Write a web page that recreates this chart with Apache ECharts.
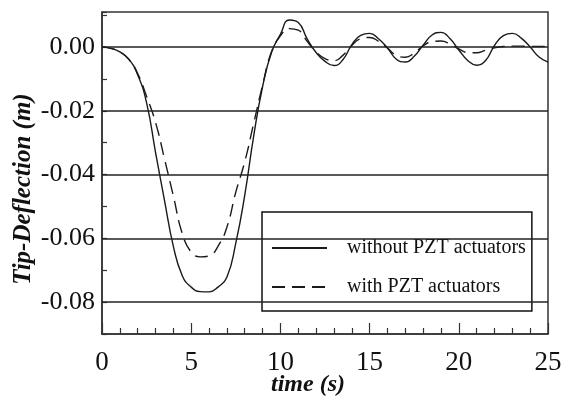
<!DOCTYPE html>
<html>
<head>
<meta charset="utf-8">
<script src="https://cdn.jsdelivr.net/npm/echarts@6/dist/echarts.min.js"></script>
<style>
  html, body { margin: 0; padding: 0; background: #fff; }
  #chart { width: 571px; height: 402px; }
</style>
</head>
<body>
<div id="chart"></div>
<script>
// time (s)
var timeData = [0, 0.5, 1, 1.5, 2, 2.5, 3, 3.5, 4, 4.5, 5, 5.5, 6, 6.5, 7, 7.5, 8, 8.5, 9, 9.5,
    10, 10.5, 11, 11.5, 12, 12.5, 13, 13.5, 14, 14.5, 15, 15.5, 16, 16.5, 17, 17.5, 18, 18.5, 19, 19.5,
    20, 20.5, 21, 21.5, 22, 22.5, 23, 23.5, 24, 24.5, 25]
// tip deflection (m) without PZT actuators
var withoutPzt = [0, -0.0004, -0.0015, -0.0038, -0.0087, -0.0175, -0.033, -0.048, -0.0625, -0.0717,
    -0.0753, -0.0767, -0.0768, -0.0753, -0.0722, -0.0615, -0.0465, -0.028, -0.0125, -0.0017,
    0.0040, 0.0085, 0.0077, 0.0026, -0.0017, -0.0045, -0.0058, -0.0040, 0.0007, 0.0037,
    0.0043, 0.0026, -0.0003, -0.0038, -0.0047, -0.0029, 0.0006, 0.0038, 0.0046, 0.0027,
    -0.0009, -0.0042, -0.0057, -0.0042, 0.0005, 0.0036, 0.0043, 0.0028, 0.0000, -0.0031, -0.0047]
// tip deflection (m) with PZT actuators
var withPzt = [0, -0.0004, -0.0015, -0.0038, -0.0083, -0.0155, -0.0236, -0.035, -0.0467, -0.0585,
    -0.0643, -0.0658, -0.0655, -0.0625, -0.0565, -0.0455, -0.036, -0.024, -0.012, -0.0015,
    0.0035, 0.0058, 0.0053, 0.0018, -0.0015, -0.0036, -0.0043, -0.0026, 0.0005, 0.0026,
    0.0030, 0.0018, -0.0003, -0.0026, -0.0032, -0.0019, 0.0004, 0.0017, 0.0019, 0.0010,
    -0.0006, -0.0017, -0.0018, -0.0010, -0.0002, 0.0002, 0.0003, 0.0003, 0.0002, 0.0002, 0.0002]
var gridValues = [0, -0.02, -0.04, -0.06, -0.08]
var seriesNames = ['without PZT actuators', 'with PZT actuators']

var serif = 'Liberation Serif, Times New Roman, serif'
var ink = '#1a1a1a'

function pairs(vals) {
    return timeData.map(function (t, i) { return [t, vals[i]] })
}

var chart = echarts.init(document.getElementById('chart'))
chart.setOption({
    animation: false,
    backgroundColor: '#fff',
    grid: {
        left: 102, top: 12, right: 23, bottom: 68,
        containLabel: false,
        outerBoundsMode: 'none',
        show: true,
        borderColor: '#333',
        borderWidth: 1.5
    },
    legend: {
        orient: 'vertical',
        left: 262,
        top: 212,
        padding: [26, 6, 14, 9],
        itemGap: 19,
        itemWidth: 55,
        itemHeight: 14,
        backgroundColor: '#fff',
        borderColor: '#111',
        borderWidth: 1.5,
        borderRadius: 0,
        data: seriesNames,
        itemStyle: { opacity: 0 },
        textStyle: {
            fontFamily: serif,
            fontSize: 20,
            color: '#111',
            padding: [0, 0, 0, 15]
        }
    },
    xAxis: {
        type: 'value',
        min: 0,
        max: 25,
        interval: 5,
        name: 'time (s)',
        nameLocation: 'middle',
        nameGap: 39,
        nameMoveOverlap: false,
        nameTextStyle: {
            fontFamily: serif,
            fontSize: 24,
            fontWeight: 'bold',
            fontStyle: 'italic',
            color: '#111',
            padding: [0, 34, 0, 0]
        },
        axisLine: { show: true, onZero: false, lineStyle: { color: '#333', width: 1.5 } },
        axisTick: { show: true, inside: true, length: 11, lineStyle: { color: '#333', width: 1.2 } },
        minorTick: { show: true, splitNumber: 5, length: 6, lineStyle: { color: '#333', width: 1.2 } },
        splitLine: { show: false },
        axisLabel: {
            fontFamily: serif,
            fontSize: 27,
            color: '#111',
            margin: 15
        }
    },
    yAxis: {
        type: 'value',
        min: -0.09,
        max: 0.011,
        interval: 0.01,
        name: 'Tip-Deflection (m)',
        nameLocation: 'middle',
        nameGap: 66,
        nameMoveOverlap: false,
        nameTextStyle: {
            fontFamily: serif,
            fontSize: 25,
            fontWeight: 'bold',
            fontStyle: 'italic',
            color: '#111',
            padding: [0, 32, 0, 0]
        },
        axisLine: { show: true, onZero: false, lineStyle: { color: '#333', width: 1.5 } },
        axisTick: { show: true, inside: true, length: 5, lineStyle: { color: '#333', width: 1.2 } },
        splitLine: { show: false },
        axisLabel: {
            fontFamily: serif,
            fontSize: 26,
            color: '#111',
            margin: 7,
            formatter: function (v) {
                var k = Math.round(v / 0.01)
                if (Math.abs(v - k * 0.01) > 1e-6 || k % 2 !== 0 || k > 0) return ''
                return v.toFixed(2)
            }
        }
    },
    series: [
        {
            name: seriesNames[0],
            type: 'line',
            data: pairs(withoutPzt),
            smooth: 0.5,
            symbol: 'none',
            lineStyle: { color: ink, width: 1.4, type: 'solid' },
            itemStyle: { color: ink },
            markLine: {
                silent: true,
                symbol: 'none',
                label: { show: false },
                lineStyle: { color: '#222', width: 1.7, type: 'solid' },
                data: gridValues.map(function (v) { return { yAxis: v } })
            }
        },
        {
            name: seriesNames[1],
            type: 'line',
            data: pairs(withPzt),
            smooth: 0.5,
            symbol: 'none',
            lineStyle: { color: ink, width: 1.4, type: [13, 7] },
            itemStyle: { color: ink }
        }
    ]
})
</script>
</body>
</html>
